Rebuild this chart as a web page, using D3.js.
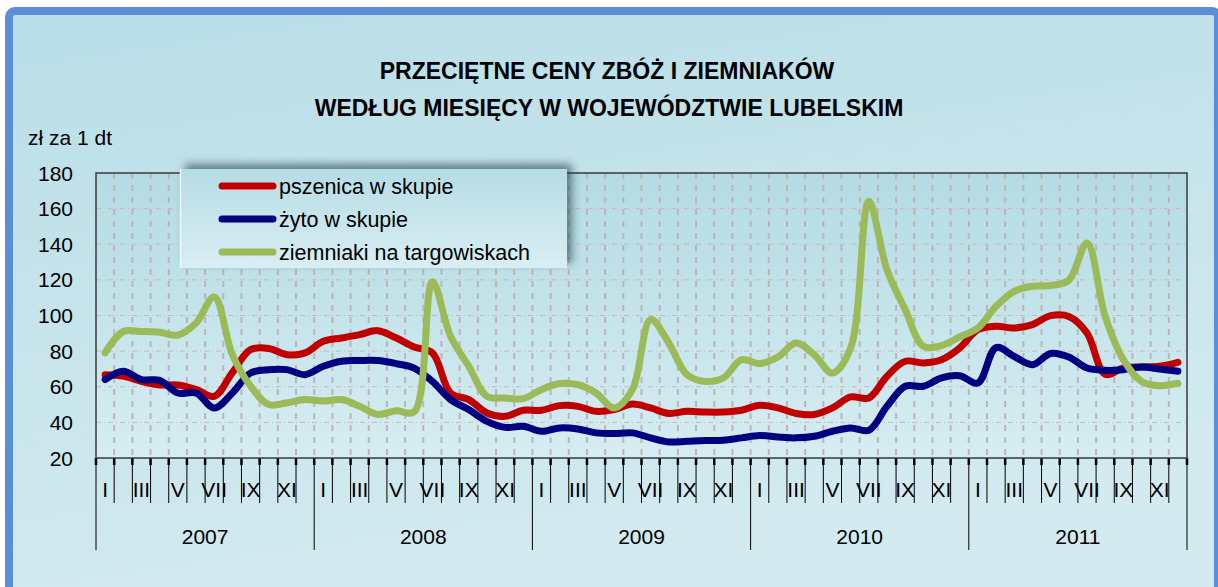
<!DOCTYPE html>
<html lang="pl">
<head>
    <meta charset="UTF-8">
    <title>Przeciętne ceny zbóż i ziemniaków</title>
    <script src="https://cdn.jsdelivr.net/npm/d3@7"></script>
    <style>
        body { margin: 0; background: #fff; }
        text { font-family: "Liberation Sans", Arial, sans-serif; fill: #000; }
        .line { fill: none; stroke-width: 7px; stroke-linecap: round; stroke-linejoin: round; }
    </style>
</head>
<body>
    <div id="charts"></div>
    <script>
        // dane (zł za 1 dt)
        const years = ["2007", "2008", "2009", "2010", "2011"];
        const monthLabels = ["I", "", "III", "", "V", "", "VII", "", "IX", "", "XI", ""];

        const pszenica = [
            66.8, 66, 63, 61, 61, 58.5, 54.6, 68, 80.8, 81.5, 78, 79,
            85.5, 87.4, 89.3, 91.5, 87.5, 82.3, 79, 56.5, 52.8, 45.3, 43.4, 46.8,
            46.8, 49.4, 49, 46.2, 47.2, 50.3, 48.1, 45, 46.2, 45.8, 45.8, 46.8,
            49.6, 48.1, 45, 44.4, 48.1, 54.3, 53.7, 65.9, 74.3, 73.4, 75.2, 81.8,
            92, 94, 93, 94.9, 99.9, 99.5, 90.2, 67, 70.5, 71.1, 71.5, 73.7
        ];
        const zyto = [
            64, 68.7, 64, 63.6, 56.5, 56.5, 48.1, 56.5, 67.7, 69.6, 69.6, 66.8,
            71.5, 74.3, 74.7, 74.7, 73, 70.5, 63, 52.8, 47.2, 40.6, 37.2, 37.8,
            35, 36.9, 36.3, 34.1, 33.7, 34.1, 31.3, 29, 29.4, 29.8, 30, 31.3,
            32.6, 31.8, 31.3, 32.2, 35, 36.9, 35.6, 49, 60.3, 60.3, 65, 66.2,
            62.1, 82, 77, 72.4, 78.7, 76.7, 70.5, 69.2, 69.6, 71.1, 70, 68.7
        ];
        const ziemniaki = [
            79, 91, 91, 90.6, 89, 95.8, 110.4, 78, 60.3, 50, 51, 52.8,
            52, 52.8, 49, 44.4, 46.5, 46, 119, 88.3, 71.5, 54.6, 53.7, 53.3,
            58.4, 61.8, 61.2, 56.5, 48.1, 58.4, 97.7, 84.6, 66.8, 63, 64.9, 75.2,
            73, 76.7, 84.6, 78, 67.7, 81.8, 164.1, 125.7, 103.3, 82.7, 83.1, 88,
            93, 105.2, 113.6, 116.4, 116.8, 119.8, 140.7, 99.5, 75.2, 63, 60.6, 62
        ];
        const yTicks = [20, 40, 60, 80, 100, 120, 140, 160, 180];

        const series = [
            { name: "pszenica w skupie", values: pszenica, color: "#c00000" },
            { name: "żyto w skupie", values: zyto, color: "#000080" },
            { name: "ziemniaki na targowiskach", values: ziemniaki, color: "#9bbb59" }
        ];

        const W = 1218, H = 587;
        const margin = { top: 173, right: 31, bottom: 129, left: 96 };
        const width = W - margin.left - margin.right;
        const height = H - margin.top - margin.bottom;

        const svg = d3.select("#charts").append("svg")
            .attr("width", W).attr("height", H);

        const defs = svg.append("defs");
        const bg = defs.append("linearGradient").attr("id", "bg").attr("x1", 0).attr("y1", 0).attr("x2", 0.3).attr("y2", 1);
        bg.append("stop").attr("offset", 0).attr("stop-color", "#b9dee7");
        bg.append("stop").attr("offset", 1).attr("stop-color", "#d3eaf0");
        const pg = defs.append("linearGradient").attr("id", "plotbg").attr("x1", 0).attr("y1", 0).attr("x2", 0).attr("y2", 1);
        pg.append("stop").attr("offset", 0).attr("stop-color", "#b3dbe4");
        pg.append("stop").attr("offset", 1).attr("stop-color", "#d6edf2");
        const lg = defs.append("linearGradient").attr("id", "legbg").attr("x1", 0).attr("y1", 0).attr("x2", 0).attr("y2", 1);
        lg.append("stop").attr("offset", 0).attr("stop-color", "#b6dce5");
        lg.append("stop").attr("offset", 1).attr("stop-color", "#d8eef3");
        const sh = defs.append("filter").attr("id", "shadow")
            .attr("x", -0.1).attr("y", -0.3).attr("width", 1.2).attr("height", 1.6);
        sh.append("feDropShadow").attr("dx", 5).attr("dy", -5).attr("stdDeviation", 4)
            .attr("flood-color", "#1a3a44").attr("flood-opacity", 0.6);

        // tło i ramka
        svg.append("rect").attr("x", 9).attr("y", 11).attr("width", 1209).attr("height", 590)
            .attr("rx", 6).attr("fill", "url(#bg)").attr("stroke", "#5b8ed6").attr("stroke-width", 8);

        // tytuł
        svg.append("text").attr("x", 607).attr("y", 79).attr("text-anchor", "middle")
            .style("font-size", "23px").style("font-weight", "bold")
            .text("PRZECIĘTNE CENY ZBÓŻ I ZIEMNIAKÓW");
        svg.append("text").attr("x", 609).attr("y", 116).attr("text-anchor", "middle")
            .style("font-size", "23px").style("font-weight", "bold")
            .text("WEDŁUG MIESIĘCY W WOJEWÓDZTWIE LUBELSKIM");
        svg.append("text").attr("x", 28).attr("y", 145).style("font-size", "21px").text("zł za 1 dt");

        const g = svg.append("g").attr("transform", "translate(" + margin.left + "," + margin.top + ")");

        const x = d3.scaleBand().domain(d3.range(60)).range([0, width]).padding(0);
        const y = d3.scaleLinear().domain([20, 180]).range([height, 0]);
        const bw = x.bandwidth();

        g.append("rect").attr("width", width).attr("height", height).attr("fill", "url(#plotbg)");

        // siatka
        g.selectAll(".hgrid").data(yTicks.slice(1, -1)).enter().append("line")
            .attr("x1", 0).attr("x2", width)
            .attr("y1", d => y(d)).attr("y2", d => y(d))
            .attr("stroke", "#c4bcbc").attr("stroke-width", 1).attr("stroke-dasharray", "5,3,1,3");
        g.selectAll(".vgrid").data(d3.range(1, 60)).enter().append("line")
            .attr("x1", d => x(d)).attr("x2", d => x(d))
            .attr("y1", 0).attr("y2", height)
            .attr("stroke", "#bdb5b5").attr("stroke-width", 2).attr("stroke-dasharray", "6,6");

        // oś Y
        g.selectAll(".ylab").data(yTicks).enter().append("text")
            .attr("x", -23).attr("y", d => y(d)).attr("dy", "0.36em")
            .attr("text-anchor", "end").style("font-size", "21px").text(d => d);

        // oś X - podziałka miesięcy i lat
        g.selectAll(".mline").data(d3.range(61)).enter().append("line")
            .attr("x1", d => d * bw).attr("x2", d => d * bw)
            .attr("y1", height).attr("y2", d => d % 12 === 0 ? height + 92 : height + 45)
            .attr("stroke", "#000").attr("stroke-width", 1);
        g.selectAll(".mtick").data(d3.range(61)).enter().append("line")
            .attr("x1", d => d * bw).attr("x2", d => d * bw)
            .attr("y1", height).attr("y2", height + 7)
            .attr("stroke", "#000").attr("stroke-width", 2.5);
        g.selectAll(".mlab").data(d3.range(60)).enter().append("text")
            .attr("x", d => x(d) + bw / 2).attr("y", height + 31).attr("dy", "0.36em")
            .attr("text-anchor", "middle").style("font-size", "21px")
            .text(d => monthLabels[d % 12]);
        g.selectAll(".ylab2").data(years).enter().append("text")
            .attr("x", (d, i) => (i * 12 + 6) * bw).attr("y", height + 78).attr("dy", "0.36em")
            .attr("text-anchor", "middle").style("font-size", "21px").text(d => d);

        // linie
        const line = d3.line()
            .x((d, i) => x(i) + bw / 2)
            .y(d => y(d))
            .curve(d3.curveCatmullRom.alpha(0.5));
        g.selectAll(".line").data(series).enter().append("path")
            .attr("class", "line")
            .attr("stroke", d => d.color)
            .attr("d", d => line(d.values));

        // ramka obszaru wykresu
        g.append("rect").attr("width", width).attr("height", height)
            .attr("fill", "none").attr("stroke", "#3a3a3a").attr("stroke-width", 1.5);

        // legenda
        const leg = svg.append("g").attr("transform", "translate(180,169)");
        leg.append("rect").attr("width", 387).attr("height", 99)
            .attr("fill", "url(#legbg)").attr("filter", "url(#shadow)");
        leg.append("line").attr("x1", 0.5).attr("x2", 0.5).attr("y1", 0).attr("y2", 99)
            .attr("stroke", "#eef8fa").attr("stroke-width", 1.5);
        const item = leg.selectAll(".item").data(series).enter().append("g")
            .attr("transform", (d, i) => "translate(0," + (17 + i * 33) + ")");
        item.append("line").attr("x1", 42).attr("x2", 93).attr("y1", 0).attr("y2", 0)
            .attr("stroke", d => d.color).attr("stroke-width", 7).attr("stroke-linecap", "round");
        item.append("text").attr("x", 99).attr("dy", "0.36em")
            .style("font-size", "21.5px").text(d => d.name);
    </script>
</body>
</html>
